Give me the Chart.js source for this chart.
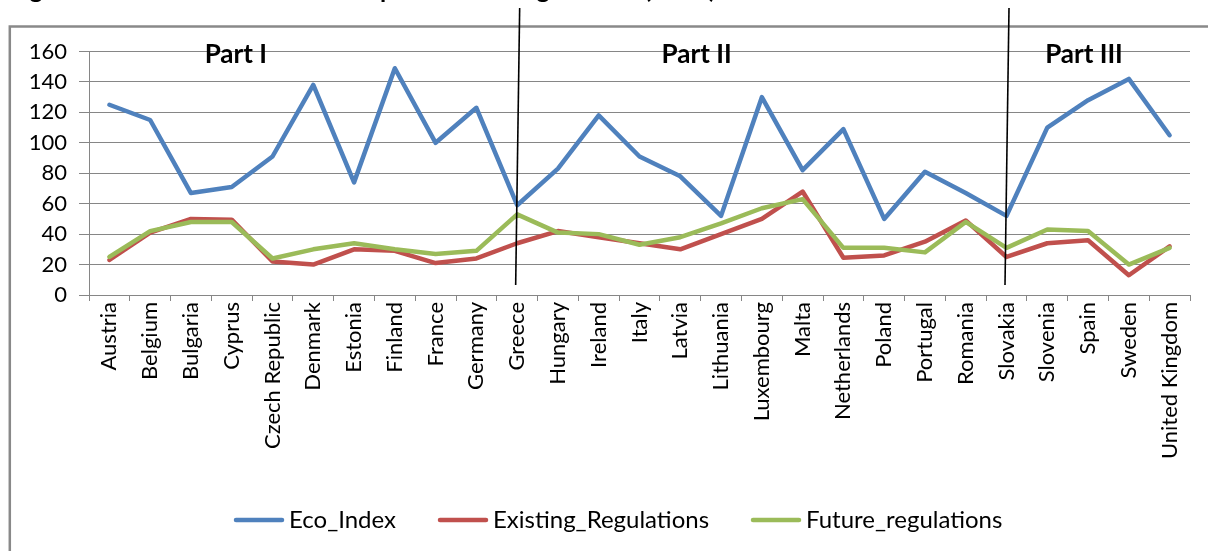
<!DOCTYPE html>
<html>
<head>
<meta charset="utf-8">
<script src="https://cdn.jsdelivr.net/npm/chart.js@4.4.1/dist/chart.umd.min.js"></script>
<style>
  html, body { margin: 0; padding: 0; background: #fff; }
  canvas { display: block; }
</style>
</head>
<body>
<canvas id="chart" width="1208" height="551"></canvas>
<script>
// --- data ---
const countries = [
  'Austria', 'Belgium', 'Bulgaria', 'Cyprus', 'Czech Republic', 'Denmark', 'Estonia',
  'Finland', 'France', 'Germany', 'Greece', 'Hungary', 'Ireland', 'Italy', 'Latvia',
  'Lithuania', 'Luxembourg', 'Malta', 'Netherlands', 'Poland', 'Portugal', 'Romania',
  'Slovakia', 'Slovenia', 'Spain', 'Sweden', 'United Kingdom'
];
const ecoIndex = [125, 115, 67, 71, 91, 138, 74, 149, 100, 123, 59, 83, 118, 91, 78,
  52, 130, 82, 109, 50, 81, 67, 52, 110, 128, 142, 105];
const existingRegulations = [23, 41, 50, 49.5, 22, 20, 30, 29, 21, 24, 34, 42, 38, 34, 30,
  40, 50, 68, 24.5, 26, 35, 49, 25, 34, 36, 13, 32];
const futureRegulations = [25, 42, 48, 48, 24, 30, 34, 30, 27, 29, 53, 41, 40, 33, 38,
  47, 57, 63, 31, 31, 28, 48, 31, 43, 42, 20, 31];
const seriesNames = ['Eco_Index', 'Existing_Regulations', 'Future_regulations'];
const seriesColors = ['#4f81bd', '#c0504d', '#9bbb59'];
const yMin = 0, yMax = 160, yStep = 20;
const partNames = ['Part I', 'Part II', 'Part III'];
const partBreaks = ['Greece', 'Slovakia'];
const figureTitle = 'Figure 4: Eco-Index values and importance of regulations (2011)';

const FONT = 'Lato';
const GRID = '#868686';

// frame, title, part dividers and legend drawn around the chart
const decor = {
  id: 'decor',
  beforeDraw(chart) {
    const ctx = chart.ctx;
    ctx.save();
    ctx.fillStyle = '#fff';
    ctx.fillRect(0, 0, chart.width, chart.height);
    ctx.strokeStyle = '#898989';
    ctx.lineWidth = 2.5;
    ctx.beginPath();
    ctx.moveTo(9.8, chart.height + 5);
    ctx.lineTo(9.8, 26.5);
    ctx.lineTo(chart.width + 5, 26.5);
    ctx.stroke();
    // the figure caption is cut off at the top of the picture
    ctx.fillStyle = '#000';
    ctx.font = `bold 25px ${FONT}`;
    ctx.textBaseline = 'alphabetic';
    ctx.fillText(figureTitle, 9, -2);
    ctx.restore();
  },
  afterDatasetsDraw(chart) {
    const { ctx, scales: { x, y } } = chart;
    ctx.save();
    // dividers between the parts
    ctx.strokeStyle = '#000';
    ctx.lineWidth = 1.6;
    partBreaks.forEach(name => {
      const px = x.getPixelForValue(countries.indexOf(name));
      ctx.beginPath();
      ctx.moveTo(px + 2.5, 8);
      ctx.lineTo(px - 1.5, y.getPixelForValue(6.5));
      ctx.stroke();
    });
    // part captions
    const partAt = [3.1, 14.4, 23.9];
    ctx.fillStyle = '#000';
    ctx.font = `bold 26px ${FONT}`;
    ctx.textAlign = 'center';
    ctx.textBaseline = 'middle';
    partNames.forEach((p, i) => ctx.fillText(p, x.getPixelForValue(partAt[i]), y.getPixelForValue(158)));
    // legend
    ctx.font = `24px ${FONT}`;
    ctx.textAlign = 'left';
    let lx = 234;
    const ly = 520;
    chart.data.datasets.forEach(ds => {
      ctx.strokeStyle = ds.borderColor;
      ctx.lineWidth = 4.5;
      ctx.lineCap = 'round';
      ctx.beginPath();
      ctx.moveTo(lx + 2, ly);
      ctx.lineTo(lx + 48, ly);
      ctx.stroke();
      ctx.fillStyle = '#000';
      ctx.fillText(ds.label, lx + 55, ly);
      lx += 55 + ctx.measureText(ds.label).width + 42;
    });
    ctx.restore();
  }
};

const makeSeries = (label, data, i, order) => ({
  label, data, order,
  borderColor: seriesColors[i],
  backgroundColor: seriesColors[i],
  borderWidth: 4.5,
  borderCapStyle: 'round',
  borderJoinStyle: 'round',
  pointRadius: 0,
  tension: 0
});

new Chart(document.getElementById('chart'), {
  type: 'line',
  data: {
    labels: countries,
    datasets: [
      makeSeries(seriesNames[0], ecoIndex, 0, 2),
      makeSeries(seriesNames[1], existingRegulations, 1, 1),
      makeSeries(seriesNames[2], futureRegulations, 2, 0)
    ]
  },
  options: {
    responsive: false,
    animation: false,
    devicePixelRatio: 1,
    layout: { padding: { top: 51.5, right: 18, bottom: 0, left: 0 } },
    plugins: {
      legend: { display: false },
      tooltip: { enabled: false }
    },
    scales: {
      x: {
        offset: true,
        grid: { offset: true, drawOnChartArea: false, drawTicks: true, tickLength: 6, color: GRID },
        border: { display: true, color: GRID, width: 1 },
        ticks: {
          autoSkip: false, minRotation: 90, maxRotation: 90, padding: 1,
          color: '#000', font: { family: FONT, size: 22 }
        },
        afterFit: s => { s.height = 256; }
      },
      y: {
        min: yMin, max: yMax,
        grid: { color: GRID, tickLength: 10 },
        border: { display: true, color: GRID, width: 1 },
        ticks: { stepSize: yStep, padding: 12, color: '#000', font: { family: FONT, size: 22 } },
        afterFit: s => { s.width = 89; }
      }
    }
  },
  plugins: [decor]
});
</script>
</body>
</html>
